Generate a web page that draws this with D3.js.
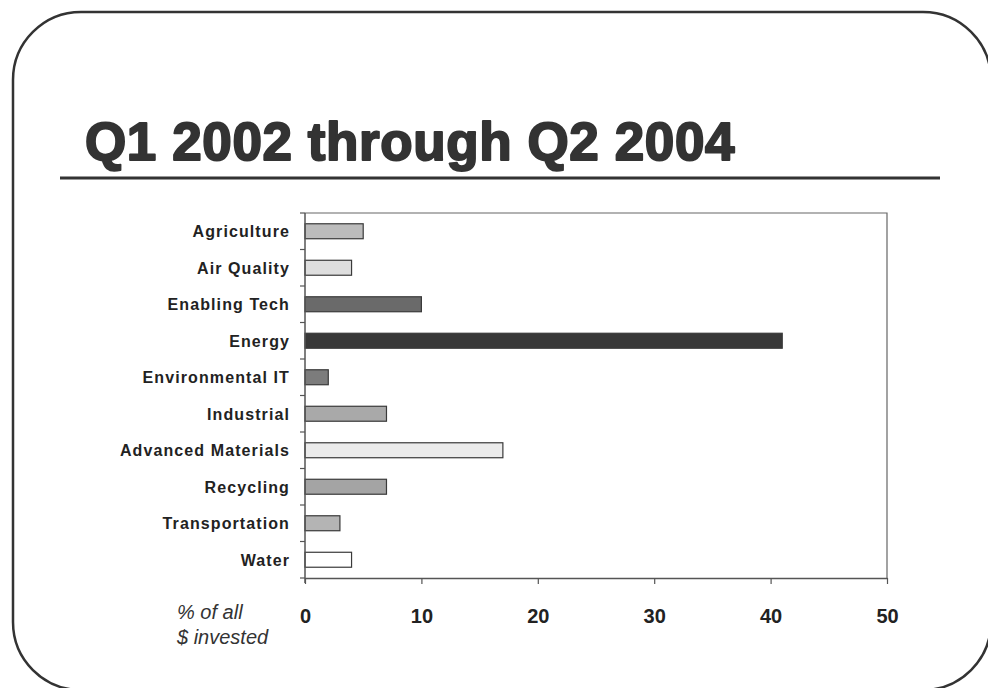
<!DOCTYPE html>
<html>
<head>
<meta charset="utf-8">
<script src="https://cdn.jsdelivr.net/npm/d3@7"></script>
<style>
  html, body { margin: 0; padding: 0; background: #fff; }
  svg { display: block; }
</style>
</head>
<body>
<svg id="chart" width="988" height="688"></svg>
<script>
// Sectors and their share of all dollars invested (%)
const categories = ["Agriculture", "Air Quality", "Enabling Tech", "Energy", "Environmental IT",
                    "Industrial", "Advanced Materials", "Recycling", "Transportation", "Water"];
const shares = [5, 4, 10, 41, 2, 7, 17, 7, 3, 4];
const barFills = ["#bcbcbc", "#dedede", "#6a6a6a", "#383838", "#7c7c7c",
                  "#a9a9a9", "#ebebeb", "#a4a4a4", "#b4b4b4", "#ffffff"];
const xTicks = [0, 10, 20, 30, 40, 50];
const titleText = "Q1 2002 through Q2 2004";
const axisNote = ["% of all", "$ invested"];

const svg = d3.select("#chart");
const font = "Liberation Sans, Arial, sans-serif";

// slide frame
svg.append("rect")
  .attr("x", 13).attr("y", 12)
  .attr("width", 978).attr("height", 678)
  .attr("rx", 68).attr("ry", 68)
  .attr("fill", "none").attr("stroke", "#333").attr("stroke-width", 2.5);

// title and rule
svg.append("text")
  .attr("x", 85).attr("y", 160)
  .attr("font-family", font).attr("font-weight", "bold")
  .attr("font-size", 53).attr("letter-spacing", 0.6)
  .attr("fill", "#333").attr("stroke", "#333").attr("stroke-width", 2)
  .attr("stroke-linejoin", "round")
  .text(titleText);
svg.append("line")
  .attr("x1", 60).attr("x2", 940).attr("y1", 178).attr("y2", 178)
  .attr("stroke", "#333").attr("stroke-width", 3);

// plot region
const plotLeft = 305, plotRight = 887, plotTop = 213, plotBottom = 578;

const x = d3.scaleLinear().domain([0, 50]).range([plotLeft, plotRight]);
const y = d3.scaleBand().domain(categories).range([plotTop, plotBottom]).paddingInner(0.59).paddingOuter(0.295);
const yBand = d3.scaleBand().domain(categories).range([plotTop, plotBottom]);

// plot frame (top and right edges)
svg.append("path")
  .attr("d", `M${plotLeft},${plotTop}H${plotRight}V${plotBottom}`)
  .attr("fill", "none").attr("stroke", "#666").attr("stroke-width", 1.2);

// bars
svg.append("g").selectAll("rect")
  .data(categories)
  .join("rect")
  .attr("x", x(0))
  .attr("y", d => y(d))
  .attr("width", (d, i) => x(shares[i]) - x(0))
  .attr("height", y.bandwidth())
  .attr("fill", (d, i) => barFills[i])
  .attr("stroke", "#3a3a3a").attr("stroke-width", 1.2);

// left axis: line with ticks on category boundaries
const gy = svg.append("g");
gy.append("line")
  .attr("x1", plotLeft).attr("x2", plotLeft).attr("y1", plotTop).attr("y2", plotBottom + 5)
  .attr("stroke", "#555").attr("stroke-width", 1.5);
const boundaries = categories.map(d => yBand(d)).concat([plotBottom]);
gy.selectAll("line.tick")
  .data(boundaries)
  .join("line").attr("class", "tick")
  .attr("x1", plotLeft - 5).attr("x2", plotLeft)
  .attr("y1", d => d).attr("y2", d => d)
  .attr("stroke", "#555").attr("stroke-width", 1.2);
gy.selectAll("text")
  .data(categories)
  .join("text")
  .attr("x", 290)
  .attr("y", d => yBand(d) + yBand.bandwidth() / 2)
  .attr("dy", "0.36em")
  .attr("text-anchor", "end")
  .attr("font-family", font).attr("font-weight", "bold")
  .attr("font-size", 16).attr("letter-spacing", 1.1).attr("fill", "#222")
  .text(d => d);

// bottom axis
const gx = svg.append("g").attr("transform", `translate(0,${plotBottom})`)
  .call(d3.axisBottom(x).tickValues(xTicks).tickSize(6).tickPadding(25).tickSizeOuter(0));
gx.select(".domain").attr("stroke", "#555").attr("stroke-width", 1.5);
gx.selectAll(".tick line").attr("stroke", "#555").attr("stroke-width", 1.2);
gx.selectAll(".tick text")
  .attr("font-family", font).attr("font-weight", "bold")
  .attr("font-size", 20).attr("fill", "#222");

// axis note
svg.append("g").selectAll("text")
  .data(axisNote)
  .join("text")
  .attr("x", 177)
  .attr("y", (d, i) => 619 + i * 25)
  .attr("font-family", font).attr("font-style", "italic")
  .attr("font-size", 20).attr("fill", "#333")
  .text(d => d);
</script>
</body>
</html>
